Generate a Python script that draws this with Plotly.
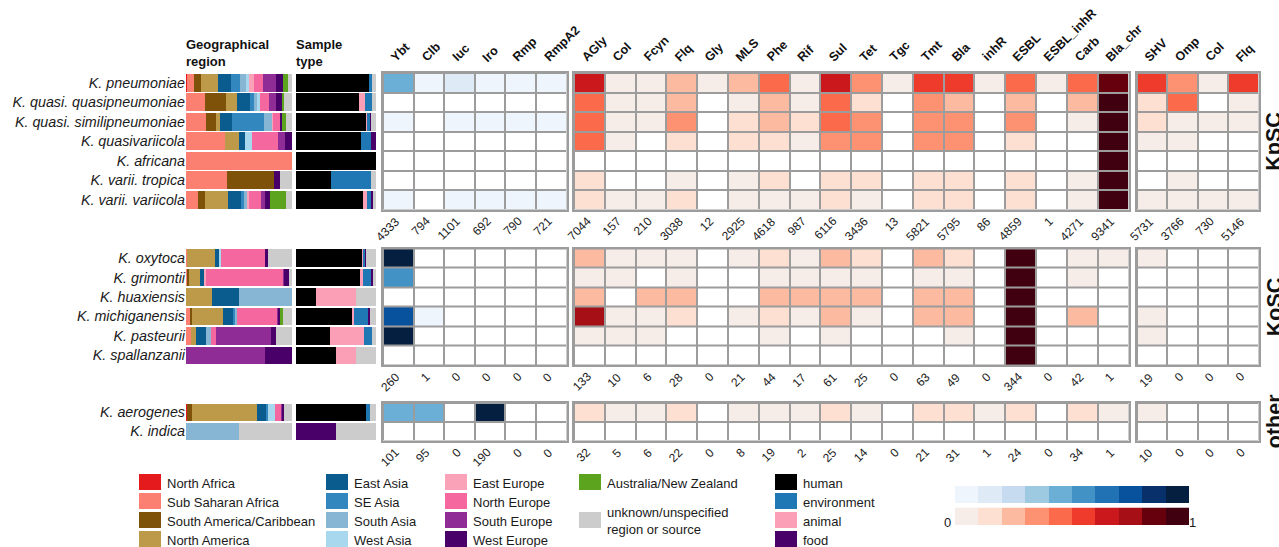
import plotly.graph_objects as go

W, H = 1279, 547
FONT = "Liberation Sans, Arial, Helvetica, sans-serif"
GRID = "#9C9C9C"

# ---------------------------------------------------------------- categories
region_names = ["North Africa", "Sub Saharan Africa", "South America/Caribbean", "North America",
                "East Asia", "SE Asia", "South Asia", "West Asia",
                "East Europe", "North Europe", "South Europe", "West Europe",
                "Australia/New Zealand", "unknown/unspecified<br>region or source"]
region_colors = ["#E41A1C", "#FB8072", "#7F5209", "#BC9A4A",
                 "#0B5C8E", "#3287BE", "#86B6D4", "#A8D8EE",
                 "#F9A2B8", "#F4679F", "#902C95", "#4A0069",
                 "#5CA41D", "#CCCCCC"]

sample_types = ["human", "animal", "environment", "food", "unknown"]
sample_colors = ["#000000", "#FA9FB5", "#1F78B4", "#4A0069", "#CCCCCC"]
sample_legend = ["human", "environment", "animal", "food"]

vir_cols = ["Ybt", "Clb", "Iuc", "Iro", "Rmp", "RmpA2"]
amr_cols = ["AGly", "Col", "Fcyn", "Flq", "Gly", "MLS", "Phe", "Rif", "Sul", "Tet", "Tgc",
            "Tmt", "Bla", "inhR", "ESBL", "ESBL_inhR", "Carb", "Bla_chr"]
mut_cols = ["SHV", "Omp", "Col", "Flq"]

# ---------------------------------------------------------------- species
kpsc_species = ["K. pneumoniae", "K. quasi. quasipneumoniae", "K. quasi. similipneumoniae",
                "K. quasivariicola", "K. africana", "K. varii. tropica", "K. varii. variicola"]
kosc_species = ["K. oxytoca", "K. grimontii", "K. huaxiensis", "K. michiganensis",
                "K. pasteurii", "K. spallanzanii"]
other_species = ["K. aerogenes", "K. indica"]

# geographic origin, % of genomes per region (order of region_names)
kpsc_region = [
    [1.3, 6.3, 6.6, 16.0, 12.3, 8.5, 5.3, 3.1, 4.7, 8.5, 12.3, 6.6, 4.7, 3.8],
    [0, 17.6, 20.1, 10.4, 12.3, 3.8, 2.8, 2.8, 0, 8.5, 6.6, 6.6, 0.9, 7.6],
    [0, 18.9, 9.4, 3.8, 11.3, 30.2, 8.2, 0, 0.6, 6.3, 0.9, 0.9, 3.8, 5.7],
    [0, 36.8, 0, 13.2, 5.7, 0, 0, 6.6, 0, 24.5, 6.6, 6.6, 0, 0],
    [0, 100, 0, 0, 0, 0, 0, 0, 0, 0, 0, 0, 0, 0],
    [0, 38.7, 44.3, 0, 0, 0, 0, 0, 0, 0, 0, 5.7, 0, 11.3],
    [0, 11.3, 6.6, 21.7, 12.3, 2.8, 2.8, 0.9, 0.6, 11.6, 3.8, 4.7, 15.1, 5.7],
]
kosc_region = [
    [0, 0.9, 0, 26.4, 3.8, 0, 0.9, 0.9, 0, 41.5, 0, 2.8, 0, 22.6],
    [0, 0.9, 1.9, 10.4, 3.8, 0, 0, 0, 1.9, 72.6, 0.9, 4.7, 0, 2.8],
    [0, 0, 0, 24.5, 25.5, 0, 50.0, 0, 0, 0, 0, 0, 0, 0],
    [0, 3.8, 1.9, 29.2, 9.4, 1.9, 1.9, 0, 0, 37.7, 0.9, 1.9, 2.8, 8.5],
    [0, 4.7, 0, 4.7, 9.4, 0, 4.7, 0, 0, 4.7, 51.9, 4.7, 0, 15.1],
    [0, 0, 0, 0, 0, 0, 0, 0, 0, 0, 74.5, 25.5, 0, 0],
]
other_region = [
    [0.9, 0, 4.7, 61.3, 8.5, 1.9, 0, 6.6, 0, 5.7, 0.9, 1.9, 0, 7.5],
    [0, 0, 0, 0, 0, 0, 50.0, 0, 0, 0, 0, 0, 0, 50.0],
]

# sample source, % of genomes (order of sample_types)
kpsc_sample = [
    [91.5, 0, 3.5, 0, 5.0],
    [78.8, 7.5, 8.8, 0, 5.0],
    [87.5, 1.7, 3.3, 1.2, 6.3],
    [81.3, 0, 12.5, 6.2, 0],
    [100, 0, 0, 0, 0],
    [43.8, 0, 50.0, 0, 6.2],
    [83.8, 5.0, 5.0, 2.5, 3.7],
]
kosc_sample = [
    [82.5, 2.1, 1.7, 1.2, 12.5],
    [80.0, 3.8, 10.0, 2.5, 3.7],
    [25.0, 50.0, 0, 0, 25.0],
    [70.0, 2.5, 18.7, 1.3, 7.5],
    [42.5, 42.5, 10.0, 0, 5.0],
    [50.0, 25.0, 0, 0, 25.0],
]
other_sample = [
    [87.5, 0, 5.0, 0, 7.5],
    [0, 0, 0, 50.0, 50.0],
]

# proportion of genomes carrying each locus / determinant
kpsc_vir = [
    [0.45, 0.05, 0.15, 0.05, 0.05, 0.05],
    [0, 0, 0, 0, 0, 0],
    [0.05, 0, 0.05, 0.05, 0.05, 0.05],
    [0, 0, 0, 0, 0, 0],
    [0, 0, 0, 0, 0, 0],
    [0, 0, 0, 0, 0, 0],
    [0.05, 0, 0.05, 0.05, 0.05, 0.05],
]
kpsc_amr = [
    [0.65, 0.05, 0.05, 0.25, 0.05, 0.25, 0.45, 0.05, 0.65, 0.35, 0.05, 0.55, 0.55, 0.05, 0.45, 0.05, 0.45, 0.85],
    [0.45, 0.05, 0.05, 0.25, 0, 0.05, 0.25, 0.05, 0.45, 0.15, 0, 0.35, 0.25, 0, 0.25, 0, 0.25, 0.95],
    [0.45, 0.05, 0.05, 0.35, 0, 0.15, 0.25, 0.15, 0.45, 0.35, 0, 0.35, 0.35, 0, 0.35, 0, 0.05, 0.95],
    [0.45, 0.05, 0, 0.15, 0, 0.15, 0.15, 0.05, 0.35, 0.35, 0, 0.35, 0.35, 0, 0.15, 0, 0, 0.95],
    [0, 0, 0, 0, 0, 0, 0, 0, 0, 0, 0, 0, 0, 0, 0, 0, 0, 0.95],
    [0.15, 0, 0, 0.05, 0, 0.05, 0.15, 0, 0.15, 0.15, 0, 0.15, 0.15, 0, 0.15, 0, 0.05, 0.95],
    [0.15, 0.05, 0.05, 0.15, 0, 0.05, 0.05, 0.05, 0.15, 0.05, 0, 0.15, 0.15, 0, 0.15, 0, 0.05, 0.95],
]
kpsc_mut = [
    [0.55, 0.35, 0.05, 0.55],
    [0.15, 0.45, 0, 0.05],
    [0.15, 0.05, 0.05, 0.05],
    [0.05, 0.05, 0, 0],
    [0, 0, 0, 0],
    [0, 0.05, 0, 0],
    [0.05, 0.05, 0.05, 0.05],
]
kosc_vir = [
    [0.95, 0, 0, 0, 0, 0],
    [0.55, 0, 0, 0, 0, 0],
    [0, 0, 0, 0, 0, 0],
    [0.75, 0.05, 0, 0, 0, 0],
    [0.95, 0, 0, 0, 0, 0],
    [0, 0, 0, 0, 0, 0],
]
kosc_amr = [
    [0.25, 0.05, 0.05, 0.05, 0, 0.05, 0.15, 0.05, 0.25, 0.15, 0, 0.25, 0.15, 0, 0.95, 0, 0.05, 0.05],
    [0.05, 0.05, 0, 0.05, 0, 0, 0.05, 0.05, 0.05, 0.05, 0, 0.05, 0.05, 0, 0.95, 0, 0.05, 0],
    [0.25, 0, 0.25, 0.25, 0, 0, 0.25, 0.25, 0.25, 0.25, 0, 0.25, 0.25, 0, 0.95, 0, 0, 0],
    [0.75, 0.05, 0.05, 0.15, 0, 0.05, 0.15, 0.05, 0.25, 0.05, 0, 0.25, 0.25, 0, 0.95, 0, 0.25, 0],
    [0.05, 0.05, 0.05, 0, 0, 0, 0.05, 0, 0.05, 0, 0, 0, 0.05, 0, 0.95, 0, 0, 0],
    [0, 0, 0, 0, 0, 0, 0, 0, 0, 0, 0, 0, 0, 0, 0.95, 0, 0, 0],
]
kosc_mut = [
    [0.05, 0, 0, 0],
    [0, 0, 0, 0],
    [0, 0, 0, 0],
    [0.05, 0, 0, 0],
    [0.05, 0, 0, 0],
    [0, 0, 0, 0],
]
other_vir = [
    [0.45, 0.45, 0, 0.95, 0, 0],
    [0, 0, 0, 0, 0, 0],
]
other_amr = [
    [0.15, 0.05, 0.05, 0.15, 0, 0.05, 0.05, 0.05, 0.15, 0.05, 0, 0.15, 0.15, 0.05, 0.15, 0, 0.15, 0.05],
    [0, 0, 0, 0, 0, 0, 0, 0, 0, 0, 0, 0, 0, 0, 0, 0, 0, 0],
]
other_mut = [
    [0.05, 0, 0, 0],
    [0, 0, 0, 0],
]

# number of genomes carrying each feature, per species complex
kpsc_vir_n = [4333, 794, 1101, 692, 790, 721]
kpsc_amr_n = [7044, 157, 210, 3038, 12, 2925, 4618, 987, 6116, 3436, 13, 5821, 5795, 86, 4859, 1, 4271, 9341]
kpsc_mut_n = [5731, 3766, 730, 5146]
kosc_vir_n = [260, 1, 0, 0, 0, 0]
kosc_amr_n = [133, 10, 6, 28, 0, 21, 44, 17, 61, 25, 0, 63, 49, 0, 344, 0, 42, 1]
kosc_mut_n = [19, 0, 0, 0]
other_vir_n = [101, 95, 0, 190, 0, 0]
other_amr_n = [32, 5, 6, 22, 0, 8, 19, 2, 25, 14, 0, 21, 31, 1, 24, 0, 34, 1]
other_mut_n = [10, 0, 0, 0]

# colour key steps
blues = ["#EEF5FC", "#DEEBF7", "#C6DBEF", "#9ECAE1", "#6BAED6",
         "#4292C6", "#2171B5", "#08519C", "#08306B", "#041F3F"]
reds = ["#F6ECE8", "#FDE0D2", "#FCBBA1", "#FC9272", "#FB6A4A",
        "#EF3B2C", "#CB181D", "#A50F15", "#67000D", "#40000F"]
key_steps = [0.05, 0.15, 0.25, 0.35, 0.45, 0.55, 0.65, 0.75, 0.85, 0.95]


def stepped_scale(colors):
    """Ten equal bins on (0, 1]; an exact zero stays white."""
    cs = [[0.0, "#FFFFFF"], [0.001, "#FFFFFF"]]
    for k, c in enumerate(colors):
        lo = max(k / 10, 0.001)
        cs += [[lo, c], [(k + 1) / 10, c]]
    return cs


BLUE_CS = stepped_scale(blues)
RED_CS = stepped_scale(reds)

# ---------------------------------------------------------------- layout (pixels)
GEO_X = (186, 292)
SAMPLE_X = (296, 376)
VIR_X = (383, 566.5)
AMR_X = (574, 1128.5)
MUT_X = (1137, 1258.5)

groups = [
    ("KpSC", kpsc_species, kpsc_region, kpsc_sample, kpsc_vir, kpsc_amr, kpsc_mut,
     kpsc_vir_n, kpsc_amr_n, kpsc_mut_n, (73, 209.5)),
    ("KoSC", kosc_species, kosc_region, kosc_sample, kosc_vir, kosc_amr, kosc_mut,
     kosc_vir_n, kosc_amr_n, kosc_mut_n, (248.5, 365)),
    ("other", other_species, other_region, other_sample, other_vir, other_amr, other_mut,
     other_vir_n, other_amr_n, other_mut_n, (403, 440.5)),
]


def px_x(p):
    return p / W


def px_y(p):
    return 1 - p / H


fig = go.Figure()
annotations = []
shapes = []
n_axes = 0


def add_axes(xpx, ypx, xkw=None, ykw=None):
    global n_axes
    n_axes += 1
    s = "" if n_axes == 1 else str(n_axes)
    base = dict(showgrid=False, zeroline=False, showticklabels=False, ticks="",
                fixedrange=True)
    xa = dict(base, domain=[px_x(xpx[0]), px_x(xpx[1])], anchor="y" + s)
    ya = dict(base, domain=[px_y(ypx[1]), px_y(ypx[0])], anchor="x" + s)
    xa.update(xkw or {})
    ya.update(ykw or {})
    fig.update_layout({"xaxis" + s: xa, "yaxis" + s: ya})
    return "x" + s, "y" + s


def add_stack(xa, ya, species, table, names, colors):
    for j, (name, col) in enumerate(zip(names, colors)):
        fig.add_trace(go.Bar(
            x=[row[j] / sum(row) for row in table], y=species, orientation="h",
            name=name, marker=dict(color=col, line=dict(width=0)),
            xaxis=xa, yaxis=ya, showlegend=False, hoverinfo="skip"))


def add_heat(xpx, ypx, species, cols, z, cs, counts, header):
    n = len(species)
    frame = dict(showline=True, mirror=True, linecolor=GRID, linewidth=2)
    xa, ya = add_axes(xpx, ypx,
                      dict(frame, type="category", range=[-0.5, len(cols) - 0.5]),
                      dict(frame, type="category", range=[n - 0.5, -0.5]))
    fig.add_trace(go.Heatmap(z=z, x=cols, y=species, colorscale=cs, zmin=0, zmax=1,
                             showscale=False, xgap=2, ygap=2, xaxis=xa, yaxis=ya,
                             hoverinfo="skip"))
    shapes.append(dict(type="rect", xref=xa + " domain", yref=ya + " domain",
                       x0=0, x1=1, y0=0, y1=1, fillcolor=GRID, line=dict(width=0),
                       layer="below"))
    for c, cnt in zip(cols, counts):
        annotations.append(dict(
            xref=xa, x=c, yref="paper", y=px_y(ypx[1] + 2), xanchor="right", yanchor="top",
            xshift=7, textangle=-45, showarrow=False, text=str(cnt),
            font=dict(size=12, color="#222222")))
        if header:
            annotations.append(dict(
                xref=xa, x=c, yref="paper", y=px_y(67), xanchor="left", yanchor="bottom",
                xshift=-13, textangle=-45, showarrow=False, text="<b>%s</b>" % c,
                font=dict(size=12.5, color="#111111")))


for gi, (label, species, region, sample, vir, amr, mut, vir_n, amr_n, mut_n, ypx) in enumerate(groups):
    n = len(species)
    ycat = dict(type="category", range=[n - 0.5, -0.5])
    xa, ya = add_axes(GEO_X, ypx, dict(range=[0, 1]),
                      dict(ycat, showticklabels=True,
                           tickfont=dict(size=14.3, style="italic", color="#1A1A1A")))
    add_stack(xa, ya, species, region, region_names, region_colors)
    xa, ya = add_axes(SAMPLE_X, ypx, dict(range=[0, 1]), dict(ycat))
    add_stack(xa, ya, species, sample, sample_types, sample_colors)

    header = gi == 0
    add_heat(VIR_X, ypx, species, vir_cols, vir, BLUE_CS, vir_n, header)
    add_heat(AMR_X, ypx, species, amr_cols, amr, RED_CS, amr_n, header)
    add_heat(MUT_X, ypx, species, mut_cols, mut, RED_CS, mut_n, header)

    annotations.append(dict(
        xref="paper", x=px_x(1260.5), yref="paper", y=px_y((ypx[0] + ypx[1]) / 2),
        xanchor="left", yanchor="middle", textangle=-90, showarrow=False,
        text="<b>%s</b>" % label, font=dict(size=21.5, color="#111111")))

# column titles over the stacked bars
for x0, txt in [(GEO_X[0], "Geographical<br>region"), (SAMPLE_X[0], "Sample<br>type")]:
    annotations.append(dict(
        xref="paper", x=px_x(x0 - 2), yref="paper", y=px_y(35), xanchor="left",
        yanchor="top", align="left", showarrow=False, text="<b>%s</b>" % txt,
        font=dict(size=13, color="#111111")))

# ---------------------------------------------------------------- legends
SW, SH = 22, 16
LEG_ROWS = [482, 501, 520, 539]
REGION_COLS = [139, 326, 445, 579]
SAMPLE_COL = 775


def legend_item(x, y, color, text):
    shapes.append(dict(type="rect", xref="paper", yref="paper",
                       x0=px_x(x), x1=px_x(x + SW), y0=px_y(y + SH / 2), y1=px_y(y - SH / 2),
                       fillcolor=color, line=dict(width=0)))
    annotations.append(dict(xref="paper", x=px_x(x + SW + 4), yref="paper", y=px_y(y + 1),
                            xanchor="left", yanchor="middle", align="left", showarrow=False,
                            text=text, font=dict(size=13, color="#1A1A1A")))


for i, (name, col) in enumerate(zip(region_names, region_colors)):
    ci, ri = (i // 4, i % 4) if i < 13 else (3, 2)
    legend_item(REGION_COLS[ci], LEG_ROWS[ri], col, name)

for i, name in enumerate(sample_legend):
    legend_item(SAMPLE_COL, LEG_ROWS[i], sample_colors[sample_types.index(name)], name)

# stepped colour keys
for cs, ypx in [(BLUE_CS, (486, 503)), (RED_CS, (507.5, 525))]:
    xa, ya = add_axes((955, 1189), ypx, dict(range=[-0.5, 9.5]), dict(range=[-0.5, 0.5]))
    fig.add_trace(go.Heatmap(z=[key_steps], x=list(range(10)), y=[0], colorscale=cs,
                             zmin=0, zmax=1, showscale=False, xaxis=xa, yaxis=ya,
                             hoverinfo="skip"))
annotations.append(dict(xref="paper", x=px_x(953), yref="paper", y=px_y(522), xanchor="right",
                        yanchor="middle", showarrow=False, text="0",
                        font=dict(size=13, color="#1A1A1A")))
annotations.append(dict(xref="paper", x=px_x(1187), yref="paper", y=px_y(522), xanchor="left",
                        yanchor="middle", showarrow=False, text="1",
                        font=dict(size=13, color="#1A1A1A")))

fig.update_layout(
    width=W, height=H, margin=dict(l=0, r=0, t=0, b=0),
    paper_bgcolor="white", plot_bgcolor="white",
    barmode="stack", bargap=0.1, showlegend=False,
    font=dict(family=FONT, color="#1A1A1A"),
    annotations=annotations, shapes=shapes,
)

fig.write_html("out.html", config={"displayModeBar": False})
